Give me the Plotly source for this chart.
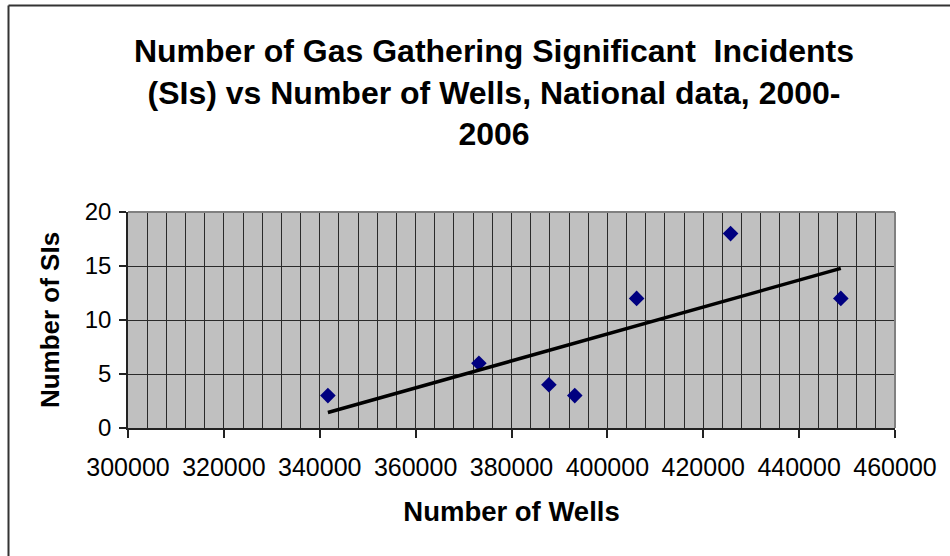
import numpy as np
import plotly.graph_objects as go

# Data
wells = [341700, 373200, 387800, 393200, 406100, 425700, 448700]
incidents = [3, 6, 4, 3, 12, 18, 12]

x_tick_values = [300000, 320000, 340000, 360000, 380000, 400000, 420000, 440000, 460000]
y_tick_values = [0, 5, 10, 15, 20]

title_text = ("Number of Gas Gathering Significant  Incidents<br>"
              "(SIs) vs Number of Wells, National data, 2000-<br>2006")
x_title = "Number of Wells"
y_title = "Number of SIs"

# Linear trendline (least squares) from the data
slope, intercept = np.polyfit(wells, incidents, 1)
trend_x = [min(wells), max(wells)]
trend_y = [slope * v + intercept for v in trend_x]

FONT = "Liberation Sans, Arial, sans-serif"

fig = go.Figure()
fig.add_trace(go.Scatter(
    x=wells, y=incidents, mode="markers",
    marker=dict(symbol="diamond", size=12, color="#000080",
                line=dict(width=0)),
    showlegend=False,
))
fig.add_trace(go.Scatter(
    x=trend_x, y=trend_y, mode="lines",
    line=dict(color="#000000", width=3.5),
    showlegend=False,
))

grid_color = "#2a2a2a"
fig.update_layout(
    width=950, height=556,
    margin=dict(l=128, r=55, t=212, b=128, autoexpand=False),
    paper_bgcolor="#FFFFFF",
    plot_bgcolor="#C0C0C0",
    font=dict(family=FONT, color="#000000"),
    title=dict(text=title_text, x=494 / 950, xref="container", xanchor="center",
               y=1 - 62 / 556, yref="container", yanchor="top",
               font=dict(family=FONT, size=32, color="#000000", weight="bold")),
    xaxis=dict(
        range=[300000, 460000], tickvals=x_tick_values,
        ticktext=[str(v) for v in x_tick_values],
        showgrid=True, gridcolor=grid_color, gridwidth=1,
        minor=dict(dtick=4000, tick0=300000, showgrid=True,
                   gridcolor=grid_color, gridwidth=1, ticks=""),
        showline=True, linecolor="#222222", linewidth=1.5,
        ticks="outside", ticklen=8, tickcolor="#222222", tickwidth=1.5,
        ticklabelstandoff=8,
        tickfont=dict(size=25, family=FONT),
        title=dict(text=x_title, standoff=22,
                   font=dict(size=27.5, family=FONT, weight="bold")),
        zeroline=False, fixedrange=True,
    ),
    yaxis=dict(
        range=[0, 20], tickvals=y_tick_values,
        showgrid=True, gridcolor=grid_color, gridwidth=1,
        showline=True, linecolor="#222222", linewidth=1.5,
        ticks="outside", ticklen=7, tickcolor="#222222", tickwidth=1.5,
        ticklabelstandoff=3,
        tickfont=dict(size=24, family=FONT),
        title=dict(text=y_title, standoff=18,
                   font=dict(size=26, family=FONT, weight="bold")),
        zeroline=False, fixedrange=True,
    ),
    shapes=[
        # plot area border (top and right, gray)
        dict(type="line", xref="paper", yref="paper", x0=0, x1=1, y0=1, y1=1,
             line=dict(color="#808080", width=2), layer="above"),
        dict(type="line", xref="paper", yref="paper", x0=1, x1=1, y0=0, y1=1,
             line=dict(color="#808080", width=2), layer="above"),
        # chart outer border (left and top visible)
        dict(type="line", xref="paper", yref="paper",
             x0=(8.5 - 128) / 767, x1=(960 - 128) / 767,
             y0=(428 - 5.5) / 216, y1=(428 - 5.5) / 216,
             line=dict(color="#333333", width=2)),
        dict(type="line", xref="paper", yref="paper",
             x0=(8.5 - 128) / 767, x1=(8.5 - 128) / 767,
             y0=(428 - 5.5) / 216, y1=(428 - 570) / 216,
             line=dict(color="#333333", width=2)),
    ],
)

fig.write_html("out.html", config={"displayModeBar": False},
               post_script="document.body.style.margin='0';")
